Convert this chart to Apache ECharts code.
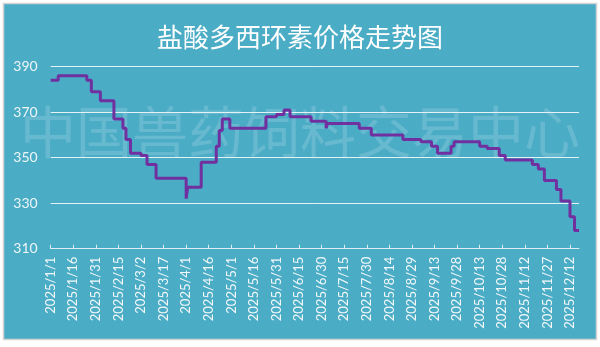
<!DOCTYPE html>
<html>
<head>
<meta charset="utf-8">
<script src="https://cdn.jsdelivr.net/npm/echarts@6/dist/echarts.min.js"></script>
<style>
html,body{margin:0;padding:0;background:#fff;}
#chart{width:600px;height:347px;}
</style>
</head>
<body>
<div id="chart"></div>
<script>
const titleText = '盐酸多西环素价格走势图';
const watermarkText = '中国兽药饲料交易中心';
const startDate = '2025/1/1';
const endDate = '2025/12/18';
const changeDates = ['2025/1/1','2025/1/6','2025/1/25','2025/1/28','2025/2/3','2025/2/12','2025/2/18','2025/2/20','2025/2/23','2025/3/2','2025/3/6','2025/3/12','2025/4/1','2025/4/2','2025/4/11','2025/4/21','2025/4/23','2025/4/25','2025/4/30','2025/5/24','2025/5/31','2025/6/5','2025/6/9','2025/6/23','2025/7/3','2025/7/4','2025/7/25','2025/8/2','2025/8/23','2025/9/4','2025/9/11','2025/9/15','2025/9/24','2025/9/26','2025/10/13','2025/10/18','2025/10/26','2025/10/30','2025/11/17','2025/11/21','2025/11/25','2025/12/3','2025/12/6','2025/12/12','2025/12/15','2025/12/18'];
const changeValues = [384,386,384,379,375,367,363,358,352,351,347,341,332,337,348,355,362,367,363,368,369,371,368,366,363,365,363,360,358,357,355,352,355,357,355,354,351,349,347,345,340,336,331,324,318,318];
const yMin = 310, yMax = 390, yStep = 20;

function parseD(s){const p=s.split('/').map(Number);return Date.UTC(p[0],p[1]-1,p[2]);}
function fmt(t){const d=new Date(t);return d.getUTCFullYear()+'/'+(d.getUTCMonth()+1)+'/'+d.getUTCDate();}
const categories = [];
for (let t = parseD(startDate); t <= parseD(endDate); t += 86400000) categories.push(fmt(t));
const seriesData = changeDates.map((d,i)=>[d, changeValues[i]]);

const chart = echarts.init(document.getElementById('chart'), null, {renderer:'canvas'});
chart.setOption({
  backgroundColor:'#ffffff',
  animation:false,
  graphic:[
    {type:'rect', z:-10, shape:{x:3.5,y:3.5,width:593,height:336}, style:{fill:'#4BACC6', stroke:'#d4d4d4', lineWidth:1.5}},
    {type:'text', z:-5, left:'center', top:104, style:{text:watermarkText, fill:'rgba(255,255,255,0.16)', font:'56px "Noto Sans CJK SC"'}}
  ],
  title:{text:titleText, left:'center', top:19, textStyle:{color:'#ffffff', fontSize:26, fontWeight:'normal', fontFamily:'"Noto Sans CJK SC"'}},
  grid:{left:50.7, right:21, top:66.7, bottom:98.3, containLabel:false},
  xAxis:{
    type:'category', data:categories, boundaryGap:false,
    axisLine:{lineStyle:{color:'#dcecf1', width:1}},
    axisTick:{show:true, interval:14, inside:true, length:4, lineStyle:{color:'#dcecf1'}},
    axisLabel:{interval:14, rotate:90, color:'#f2f8fa', fontSize:13, fontFamily:'Lato', margin:8},
    splitLine:{show:false}
  },
  yAxis:{
    type:'value', min:yMin, max:yMax, interval:yStep,
    axisLine:{show:false}, axisTick:{show:false},
    axisLabel:{color:'#eef6f8', fontSize:14, fontFamily:'Lato', margin:13},
    splitLine:{lineStyle:{color:'#e4f2f6', width:1}}
  },
  series:[{
    type:'line', data:seriesData, step:'end', showSymbol:false, symbol:'none',
    lineStyle:{color:'#7030A0', width:3}
  }]
});
</script>
</body>
</html>
